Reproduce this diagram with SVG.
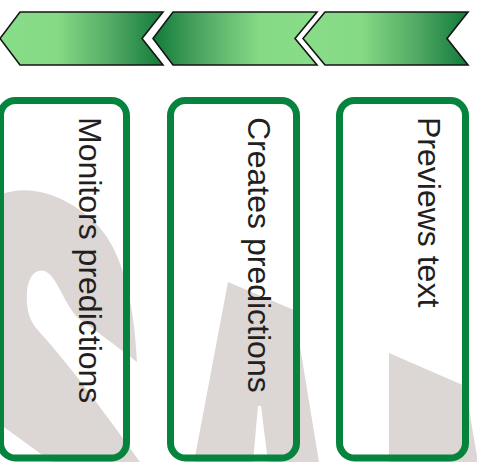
<svg xmlns="http://www.w3.org/2000/svg" width="477" height="462" viewBox="0 0 477 462">
<defs>
<linearGradient id="gLD" x1="0" y1="0" x2="1" y2="0">
<stop offset="0" stop-color="#88dd88"/>
<stop offset="0.35" stop-color="#86da86"/>
<stop offset="0.7" stop-color="#4fa863"/>
<stop offset="1" stop-color="#127a3a"/>
</linearGradient>
<linearGradient id="gDL" x1="0" y1="0" x2="1" y2="0">
<stop offset="0" stop-color="#127a3a"/>
<stop offset="0.3" stop-color="#4fa863"/>
<stop offset="0.65" stop-color="#86da86"/>
<stop offset="1" stop-color="#88dd88"/>
</linearGradient>
<style>
.chev{stroke:#151515;stroke-width:1.6;stroke-linejoin:miter}
.box{fill:none;stroke:#06843e;stroke-width:7}
.lbl{font-family:"Liberation Sans",Arial,sans-serif;font-size:32px;fill:#231f20}
.bg{fill:#dcd7d5}
</style>
</defs>
<g id="background">
<path class="bg" d="M -6,198 C 25,180 70,195 100,228 C 122,253 134,300 137,362 C 115,345 95,330 78,318 C 65,305 58,280 48,273 C 38,266 28,275 27,292 C 26,305 28,318 36,328 C 70,365 110,420 140,462 L 52,462 L -6,420 Z"/>
<path class="bg" d="M 228,282 L 294,310 L 319,462 L 268,462 L 261,406 L 258,406 L 253,462 L 194,462 Z"/>
<path class="bg" d="M 389,353 L 465,386 L 478,462 L 389,462 Z"/>
</g>
<g id="chevrons">
<polygon id="chev1" class="chev" fill="url(#gLD)" points="0,38.5 20,12 163,12 142,38.5 163,65 20,65"/>
<polygon id="chev2" class="chev" fill="url(#gDL)" points="153,38.5 173,12 317,12 295,38.5 317,65 173,65"/>
<polygon id="chev3" class="chev" fill="url(#gLD)" points="303,38.5 325,12 468,12 447,38.5 468,65 325,65"/>
</g>
<g id="node1">
<rect class="box" x="0.5" y="100.5" width="126" height="357.5" rx="15"/>
<text class="lbl" transform="translate(79,117) rotate(90)">Monitors predictions</text>
</g>
<g id="node2">
<rect class="box" x="170.5" y="100.5" width="126" height="357.5" rx="15"/>
<text class="lbl" transform="translate(248,117) rotate(90)">Creates predictions</text>
</g>
<g id="node3">
<rect class="box" x="339.5" y="100.5" width="126" height="357.5" rx="15"/>
<text class="lbl" transform="translate(418,117) rotate(90)">Previews text</text>
</g>
<g id="connectors"></g>
</svg>
